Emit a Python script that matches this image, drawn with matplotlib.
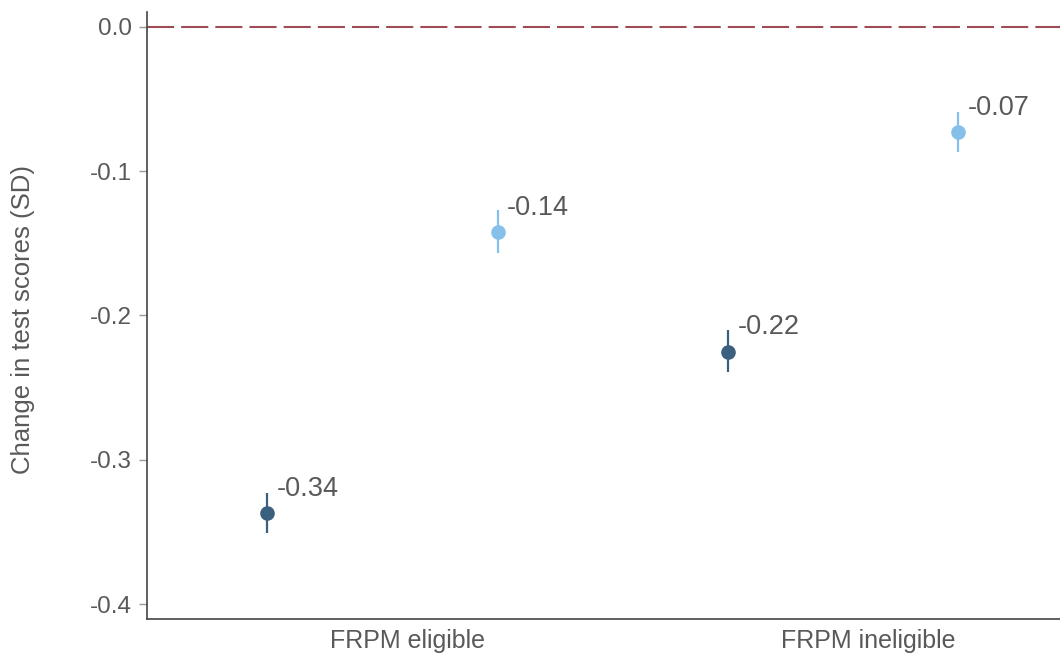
import numpy as np
import matplotlib
matplotlib.use("Agg")
import matplotlib.pyplot as plt

plt.rcParams['font.family'] = ['Liberation Sans', 'DejaVu Sans']

# data
groups = ['FRPM eligible', 'FRPM ineligible']
series = ['dark', 'light']
estimate = {'dark': [-0.337, -0.225], 'light': [-0.142, -0.073]}
lower = {'dark': [-0.351, -0.239], 'light': [-0.157, -0.087]}
upper = {'dark': [-0.323, -0.210], 'light': [-0.127, -0.059]}
point_labels = {'dark': ['-0.34', '-0.22'], 'light': ['-0.14', '-0.07']}
yticks = [0.0, -0.1, -0.2, -0.3, -0.4]

colors = {'dark': '#3b5f7e', 'light': '#85c0ea'}
offsets = {'dark': -0.305, 'light': 0.195}
text_col = '#595959'

fig = plt.figure(figsize=(10.6, 6.54), dpi=100)
ax = fig.add_axes([0.1387, 0.0535, 0.8613, 0.9282])

ax.axhline(0, color='#9e4a57', lw=1.5, linestyle=(0, (13, 3.4)), zorder=1)

x = np.arange(1, len(groups) + 1)
for s in series:
    xs = x + offsets[s]
    est = np.array(estimate[s])
    err = np.vstack([est - np.array(lower[s]), np.array(upper[s]) - est])
    ax.errorbar(xs, est, yerr=err, fmt='o', color=colors[s], ms=9.5,
                elinewidth=1.6, capsize=0, zorder=3)
    for xi, yi, lab in zip(xs, est, point_labels[s]):
        ax.annotate(lab, (xi, yi), xytext=(7, 8), textcoords='offset points',
                    ha='left', va='bottom', fontsize=19.5, color=text_col)

ax.set_xlim(0.4347, 2.4152)
ax.set_ylim(-0.4104, 0.0104)
ax.set_xticks(x)
ax.set_xticklabels(groups)
ax.set_yticks(yticks)
ax.set_yticklabels(['%.1f' % t if t != 0 else '0.0' for t in yticks])
ax.set_ylabel('Change in test scores (SD)', fontsize=18.5, color=text_col)
ax.yaxis.set_label_coords(-0.123, 0.494)

ax.tick_params(axis='y', labelsize=17.5, labelcolor=text_col, color='#999999',
               length=6, width=1, pad=5)
ax.tick_params(axis='x', labelsize=18, labelcolor=text_col, length=0, pad=7)
for side in ['top', 'right']:
    ax.spines[side].set_visible(False)
for side in ['left', 'bottom']:
    ax.spines[side].set_color('#444444')
    ax.spines[side].set_linewidth(1.2)

fig.savefig('out.png', dpi=100)
